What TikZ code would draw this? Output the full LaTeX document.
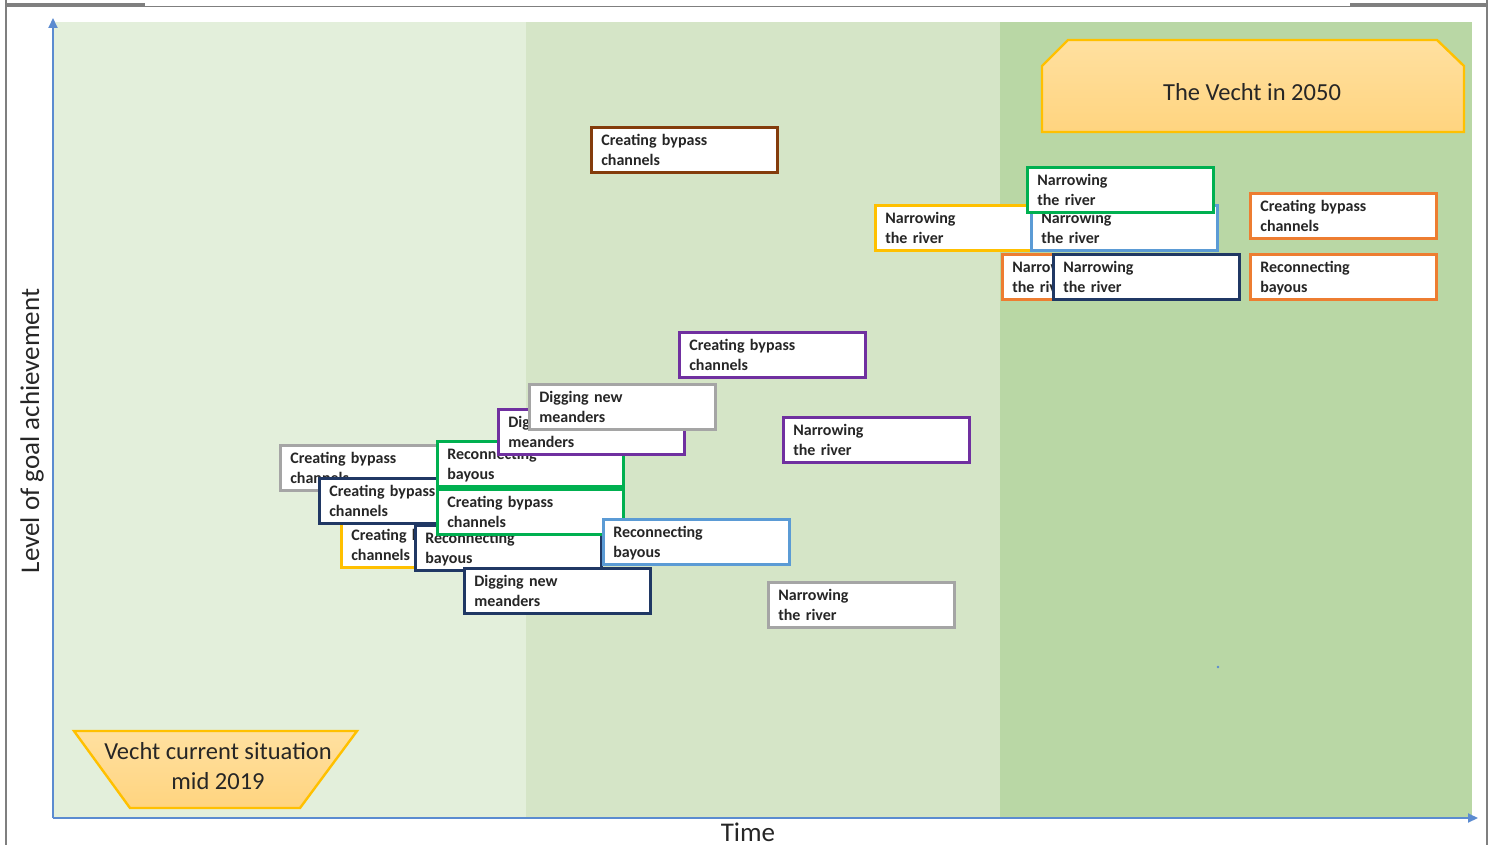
\documentclass[tikz,border=0pt]{standalone}
\usepackage{fontspec}
\setmainfont{Carlito}
\usetikzlibrary{arrows.meta}

% palette
\definecolor{zoneA}{HTML}{E3EFDB}
\definecolor{zoneB}{HTML}{D5E5C7}
\definecolor{zoneC}{HTML}{B9D7A5}
\definecolor{axisblue}{HTML}{5B8BD0}
\definecolor{framegray}{HTML}{7F7F7F}
\definecolor{cBrown}{HTML}{843C0C}
\definecolor{cYellow}{HTML}{FFC000}
\definecolor{cOrange}{HTML}{ED7D31}
\definecolor{cGreen}{HTML}{00B050}
\definecolor{cLightBlue}{HTML}{5B9BD5}
\definecolor{cNavy}{HTML}{203864}
\definecolor{cPurple}{HTML}{7030A0}
\definecolor{cGray}{HTML}{A5A5A5}
\definecolor{boxtext}{HTML}{262626}
\definecolor{goldedge}{HTML}{FFC000}
\definecolor{goldtop}{HTML}{FFE0A0}
\definecolor{goldbottom}{HTML}{FFD47F}

\newcommand\measurefont{\fontsize{16}{19.5}\selectfont\bfseries}
% strut that sits the two text lines a little low in the box
\newcommand\lowstrut{\rule[-3.85pt]{0pt}{19.5pt}}
\newcommand\twolines[2]{\lowstrut #1\\\lowstrut #2}

\tikzset{
  measure/.style={draw=#1, line width=2.6pt, fill=white, anchor=north west,
    minimum width=186pt, minimum height=45pt, inner xsep=0pt, inner ysep=0pt,
    text width=166pt, align=left, font=\measurefont, text=boxtext},
  axisline/.style={draw=axisblue, line width=2pt,
    -{Triangle[length=10pt,width=9pt]}},
  milestone/.style={draw=goldedge, line width=2.4pt,
    top color=goldtop, bottom color=goldbottom},
  milestonetext/.style={font=\fontsize{24.5}{30.5}\selectfont, text=boxtext,
    align=center},
  axislabel/.style={font=\fontsize{27}{32}\selectfont, text=boxtext},
  frame/.style={draw=framegray, line width=1.6pt},
}

\begin{document}
\begin{tikzpicture}[x=1pt,y=-1pt]
\useasboundingbox (0,0) rectangle (1494,845);

% page frame
\draw[frame] (6,0) -- (6,845);
\draw[frame] (1487,0) -- (1487,845);
\draw[frame] (6,6.5) -- (1487,6.5);
\draw[frame, line width=3pt] (6,4.5) -- (145,4.5);
\draw[frame, line width=3pt] (1350,4.5) -- (1487,4.5);

% time zones
\fill[zoneA] (53,22) rectangle (526,818);
\fill[zoneB] (526,22) rectangle (1000,818);
\fill[zoneC] (1000,22) rectangle (1472,818);

% axes
\coordinate (origin) at (53,818);
\coordinate (ytip) at (53,18);
\coordinate (xtip) at (1478,818);
\draw[axisline] (origin) -- (ytip);
\draw[axisline] (origin) -- (xtip);
\node[axislabel, rotate=90] (ylabel) at (32,431) {Level of goal achievement};
\node[axislabel] (xlabel) at (748,832) {Time};

% start and goal
\path[milestone] (74,731) -- (357,731) -- (300,808) -- (130,808) -- cycle;
\node[milestonetext] (now) at (218,766) {Vecht current situation\\mid 2019};
\path[milestone] (1068,40) -- (1437,40) -- (1464,66) -- (1464,132)
  -- (1042,132) -- (1042,66) -- cycle;
\node[milestonetext] (goal) at (1252,92) {The Vecht in 2050};

% measures, back to front
\node[measure=cBrown] (m1) at (590,126) {\twolines{Creating bypass}{channels}};
\node[measure=cYellow] (m2) at (874,204) {\twolines{Narrowing}{the river}};
\node[measure=cLightBlue] (m3) at (1030,204) {\twolines{Narrowing}{the river}};
\node[measure=cGreen] (m4) at (1026,166) {\twolines{Narrowing}{the river}};
\node[measure=cOrange] (m5) at (1001,253) {\twolines{Narrowing}{the river}};
\node[measure=cNavy] (m6) at (1052,253) {\twolines{Narrowing}{the river}};
\node[measure=cOrange] (m7) at (1249,192) {\twolines{Creating bypass}{channels}};
\node[measure=cOrange] (m8) at (1249,253) {\twolines{Reconnecting}{bayous}};
\node[measure=cPurple] (m9) at (678,331) {\twolines{Creating bypass}{channels}};
\node[measure=cPurple] (m10) at (782,416) {\twolines{Narrowing}{the river}};
\node[measure=cGray] (m11) at (767,581) {\twolines{Narrowing}{the river}};

\node[measure=cYellow] (m12) at (340,521) {\twolines{Creating bypass}{channels}};
\node[measure=cNavy] (m13) at (414,524) {\twolines{Reconnecting}{bayous}};
\node[measure=cNavy] (m14) at (463,567) {\twolines{Digging new}{meanders}};
\node[measure=cGray] (m15) at (279,444) {\twolines{Creating bypass}{channels}};
\node[measure=cNavy] (m16) at (318,477) {\twolines{Creating bypass}{channels}};
\node[measure=cGreen] (m17) at (436,440) {\twolines{Reconnecting}{bayous}};
\node[measure=cGreen] (m18) at (436,488) {\twolines{Creating bypass}{channels}};
\node[measure=cLightBlue] (m19) at (602,518) {\twolines{Reconnecting}{bayous}};
\node[measure=cPurple] (m20) at (497,408) {\twolines{Digging new}{meanders}};
\node[measure=cGray] (m21) at (528,383) {\twolines{Digging new}{meanders}};

% stray point
\fill[axisblue] (1218,667) circle (1.3);
\end{tikzpicture}
\end{document}
